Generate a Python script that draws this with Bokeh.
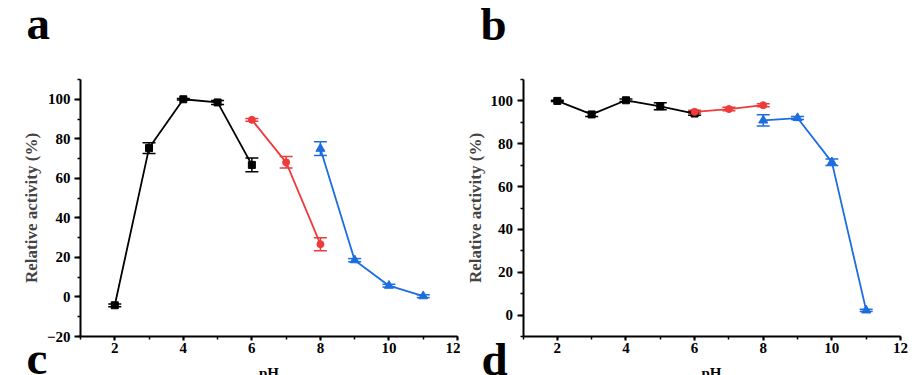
from bokeh.plotting import figure
from bokeh.models import Range1d, SingleIntervalTicker, Whisker, TeeHead, ColumnDataSource, Label
from bokeh.layouts import row
from bokeh.embed import file_html
from bokeh.resources import INLINE

# ---------------- data ----------------
# panel a
a_black_x = [2, 3, 4, 5, 6]
a_black_y = [-4.2, 75.3, 100.0, 98.4, 66.8]
a_black_err = [0.7, 2.7, 0.4, 1.0, 3.5]
a_red_x = [6, 7, 8]
a_red_y = [89.6, 68.1, 26.7]
a_red_err = [0.7, 2.9, 3.3]
a_blue_x = [8, 9, 10, 11]
a_blue_y = [75.0, 18.6, 5.7, 0.4]
a_blue_err = [3.5, 0.8, 0.7, 0.7]

# panel b
b_black_x = [2, 3, 4, 5, 6]
b_black_y = [100.0, 93.7, 100.3, 97.5, 94.1]
b_black_err = [0.3, 1.0, 0.6, 1.6, 0.8]
b_red_x = [6, 7, 8]
b_red_y = [94.9, 96.2, 98.0]
b_red_err = [0.8, 0.8, 0.7]
b_blue_x = [8, 9, 10, 11]
b_blue_y = [90.9, 92.0, 71.4, 2.2]
b_blue_err = [2.6, 0.7, 1.5, 0.5]

x_min, x_max = 1, 12
x_label = "pH"
y_label = "Relative activity (%)"

BLACK = "#000000"
RED = "#EE3B3B"
BLUE = "#1C6DE0"
FONT = "Liberation Serif"
H = 375


def make_panel(width, frame_px, y0, y1, series, letters):
    # frame_px: pixel box (left, right, top, bottom) of the axes inside this canvas
    L, R, T, B = frame_px
    kx = (R - L) / float(x_max - x_min)
    ky = (B - T) / float(y1 - y0)

    def dx(px):
        return x_min + (px - L) / kx

    def dy(py):
        return y0 + (B - py) / ky

    p = figure(width=width, height=H, output_backend="svg", toolbar_location=None,
               title=None,
               x_range=Range1d(dx(0), dx(width)), y_range=Range1d(dy(H), dy(0)),
               min_border_left=0, min_border_right=0, min_border_top=0, min_border_bottom=0)
    p.outline_line_color = None
    p.grid.visible = False
    p.background_fill_color = "white"
    p.border_fill_color = "white"

    p.xaxis.fixed_location = y0
    p.yaxis.fixed_location = x_min
    p.xaxis.bounds = (x_min, x_max)
    p.yaxis.bounds = (y0, y1)
    p.xaxis.ticker = SingleIntervalTicker(interval=2, num_minor_ticks=2)
    p.yaxis.ticker = SingleIntervalTicker(interval=20, num_minor_ticks=2)
    for ax in (p.xaxis, p.yaxis):
        ax.axis_line_width = 2
        ax.major_tick_line_width = 2
        ax.minor_tick_line_width = 1.5
        ax.major_tick_in = 0
        ax.minor_tick_in = 0
        ax.minor_tick_out = 3
        ax.major_label_text_font = FONT
        ax.major_label_text_font_style = "bold"
        ax.major_label_text_font_size = "15px"
        ax.major_label_text_color = "black"
    p.xaxis.major_tick_out = 4
    p.xaxis.major_label_standoff = 2
    p.yaxis.major_tick_out = 6
    p.yaxis.major_label_standoff = 4
    p.yaxis.axis_label = y_label
    p.yaxis.axis_label_text_font = FONT
    p.yaxis.axis_label_text_font_style = "bold"
    p.yaxis.axis_label_text_font_size = "17px"
    p.yaxis.axis_label_standoff = 3

    for (xs, ys, es, color, marker, size) in series:
        src = ColumnDataSource(dict(x=xs, y=ys,
                                    lo=[v - e for v, e in zip(ys, es)],
                                    hi=[v + e for v, e in zip(ys, es)]))
        p.line("x", "y", source=src, line_color=color, line_width=1.8)
        p.add_layout(Whisker(source=src, base="x", lower="lo", upper="hi", dimension="height",
                             line_color=color, line_width=1.5,
                             upper_head=TeeHead(size=13, line_color=color, line_width=1.5),
                             lower_head=TeeHead(size=13, line_color=color, line_width=1.5)))
        p.scatter("x", "y", source=src, marker=marker, size=size, color=color)

    # letters given by glyph baseline (px); placed with a middle anchor
    for (txt, px, base, size, align) in letters:
        mid = base - 0.3375 * size
        p.add_layout(Label(x=dx(px), y=dy(mid), text=txt, text_font=FONT, text_font_style="bold",
                           text_font_size="%dpx" % size, text_align=align, text_baseline="middle",
                           text_color="black"))
    return p


pa = make_panel(460, (80, 457, 79, 336), -20, 110,
                [(a_black_x, a_black_y, a_black_err, BLACK, "square", 7),
                 (a_red_x, a_red_y, a_red_err, RED, "circle", 7),
                 (a_blue_x, a_blue_y, a_blue_err, BLUE, "triangle", 9)],
                [("a", 26, 38, 47, "left"),
                 ("c", 26, 373, 47, "left"),
                 (x_label, 268.5, 378, 15, "center")])

pb = make_panel(459, (62.5, 440, 79, 336), -10, 110,
                [(b_black_x, b_black_y, b_black_err, BLACK, "square", 7),
                 (b_red_x, b_red_y, b_red_err, RED, "circle", 7),
                 (b_blue_x, b_blue_y, b_blue_err, BLUE, "triangle", 9)],
                [("b", 20, 39, 47, "left"),
                 ("d", 21, 374, 47, "left"),
                 (x_label, 251, 378, 15, "center")])

layout = row(pa, pb)
open("out.html", "w").write(file_html(layout, INLINE))
